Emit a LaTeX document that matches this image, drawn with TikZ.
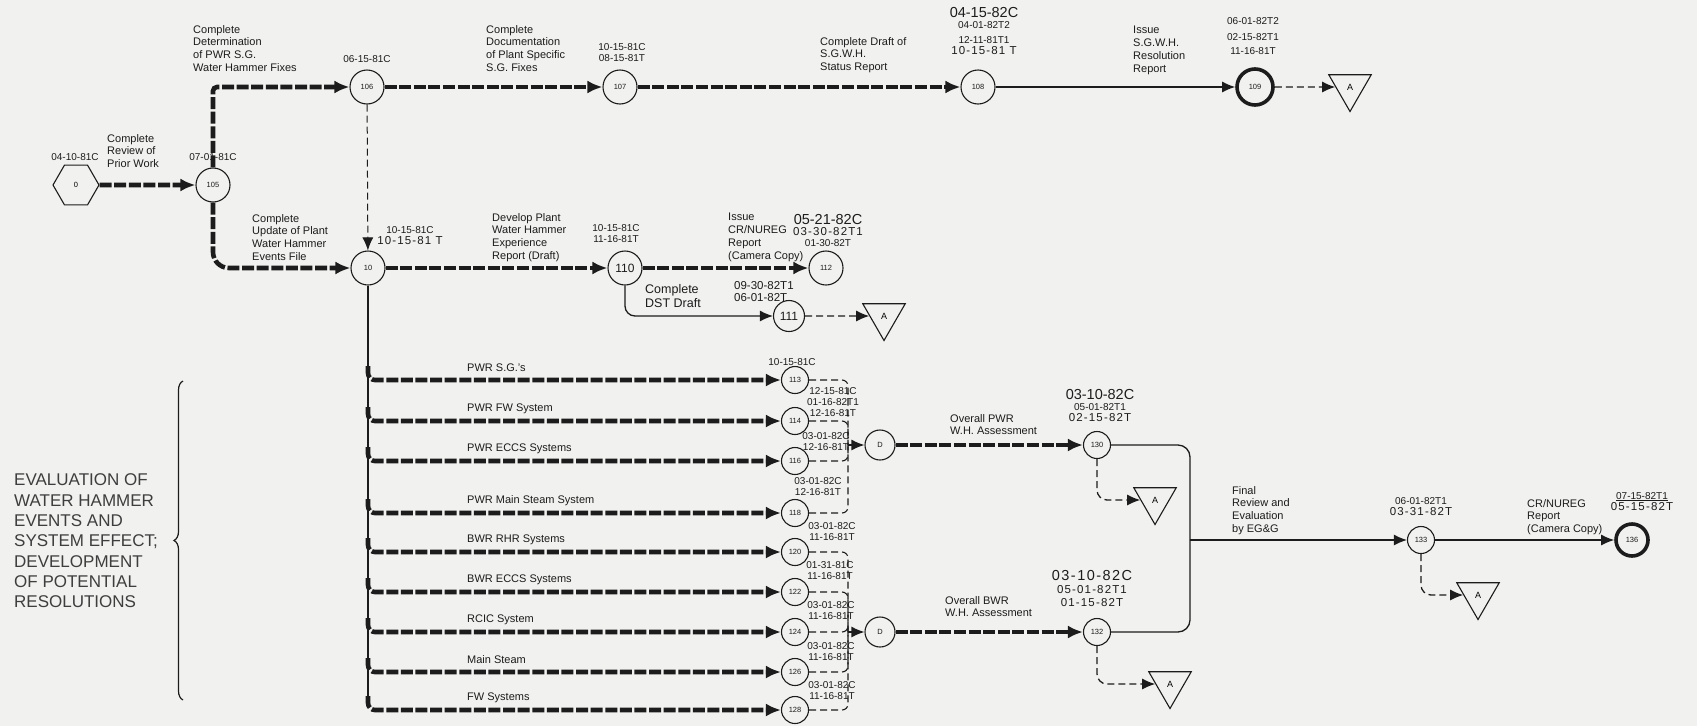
\documentclass[tikz,border=0pt]{standalone}
\usepackage{fontspec}
\setmainfont{Liberation Sans}
\usepackage{xcolor}
\usepackage{tikz}
\usetikzlibrary{shapes.geometric,arrows.meta,positioning,calc,decorations.pathreplacing}
\definecolor{paper}{RGB}{241,241,239}
\definecolor{ink}{RGB}{28,28,28}
\newcommand{\fs}[2]{\fontsize{#1}{#2}\selectfont}
\newcommand{\md}{\fs{11.5}{13}\addfontfeatures{LetterSpace=10}}
\tikzset{
  ev/.style={draw=ink, circle, line width=1.1pt, minimum size=34pt, inner sep=0pt,
             font=\fs{7.5}{8}, text=ink},
  evs/.style={ev, minimum size=27pt},
  evt/.style={ev, line width=3.6pt, minimum size=36pt},
  hexa/.style={draw=ink, regular polygon, regular polygon sides=6, minimum size=46pt,
               line width=1.1pt, inner sep=0pt, font=\fs{7.5}{8}},
  tri/.style={draw=ink, regular polygon, regular polygon sides=3, shape border rotate=180,
              minimum size=49pt, line width=1.1pt, inner sep=0pt, font=\fs{9}{10}},
  lbl/.style={align=left, anchor=north west, inner sep=0pt, text=ink, font=\fs{11}{12.8}},
  dt/.style={align=center, inner sep=0pt, text=ink, font=\fs{10}{11}},
  hatch/.style={draw=ink, line width=4.6pt, dash pattern=on 12pt off 2.6pt,
                -{Latex[length=15pt,width=13pt]}},
  SA/.style={draw=ink, line width=1.3pt, -{Latex[length=13pt,width=11pt]}},
  DA/.style={draw=ink, line width=1.3pt, dash pattern=on 7pt off 4pt,
             -{Latex[length=13pt,width=11pt]}},
  DL/.style={draw=ink, line width=1.1pt, dash pattern=on 7pt off 4pt}
}

\begin{document}
\begin{tikzpicture}[x=1pt, y=-1pt]
\fill[paper] (0,0) rectangle (1697,726);
\useasboundingbox (0,0) rectangle (1697,726);

% ---- Top row: S.G. fixes ----
\node[hexa] (n0)   at (76,185)  {0};
\node[ev]   (n105) at (213,185) {105};
\node[ev]   (n106) at (367,87)  {106};
\node[ev]   (n107) at (620,87)  {107};
\node[ev]   (n108) at (978,87)  {108};
\node[evt]  (n109) at (1255,87) {109};
\node[tri]  (A1)   at (1350,87) {A};

\node[dt] (d0)   at (75,157)  {04-10-81C};
\node[lbl] (t0)  at (107,134) {Complete\\Review of\\Prior Work};
\node[dt] (d105) at (213,157) {07-01-81C};
\node[lbl] (t105) at (193,25) {Complete\\Determination\\of PWR S.G.\\Water Hammer Fixes};
\node[dt] (d106) at (367,59)  {06-15-81C};
\node[lbl] (t106) at (486,25) {Complete\\Documentation\\of Plant Specific\\S.G. Fixes};
\node[dt] (d107) at (622,53)  {10-15-81C\\08-15-81T};
\node[lbl] (t107) at (820,37) {Complete Draft of\\S.G.W.H.\\Status Report};
\node[dt, anchor=north] (d108) at (984,7)
    {{\fs{14.5}{15}04-15-82C}\\04-01-82T2\\[4pt]12-11-81T1\\{\md 10-15-81 T}};
\node[lbl] (t108) at (1133,26) {Issue\\S.G.W.H.\\Resolution\\Report};
\node[dt, anchor=north] (d109) at (1253,17) {06-01-82T2\\[5pt]02-15-82T1\\[3pt]11-16-81T};

% ---- Middle row: events file ----
\node[ev]  (n10)  at (368,268) {10};
\node[ev, font=\fs{12}{12}]  (n110) at (625,268) {110};
\node[ev]  (n112) at (826,268) {112};
\node[ev, minimum size=31pt, font=\fs{12}{12}] (n111) at (789,316) {111};
\node[tri] (A2)   at (884,316) {A};

\node[lbl] (t10) at (252,214) {Complete\\Update of Plant\\Water Hammer\\Events File};
\node[dt]  (d10) at (410,236) {10-15-81C\\{\md 10-15-81 T}};
\node[lbl] (t110) at (492,213) {Develop Plant\\Water Hammer\\Experience\\Report (Draft)};
\node[dt]  (d110) at (616,234) {10-15-81C\\11-16-81T};
\node[lbl] (t112) at (728,213) {Issue\\CR/NUREG\\Report\\(Camera Copy)};
\node[dt, anchor=north] (d112) at (828,214)
    {{\fs{14.5}{15}05-21-82C}\\{\md 03-30-82T1}\\01-30-82T};
\node[lbl, font=\fs{12.5}{14}] (t111) at (645,284) {Complete\\DST Draft};
\node[lbl, font=\fs{11.5}{12}] (d111) at (734,281) {09-30-82T1\\06-01-82T};

% ---- Evaluation rows ----
\coordinate (trunk) at (368,700);
\foreach \n/\y/\t in {113/380/{PWR S.G.'s}, 114/421/{PWR FW System},
    116/461/{PWR ECCS Systems}, 118/513/{PWR Main Steam System},
    120/552/{BWR RHR Systems}, 122/592/{BWR ECCS Systems},
    124/632/{RCIC System}, 126/672/{Main Steam}, 128/710/{FW Systems}}{
  \node[evs] (n\n) at (795,\y) {\n};
  \coordinate (b\n) at (368,\y-14);
  \node[lbl, anchor=west] at (467,\y-12) {\t};
  \draw[hatch, rounded corners=7pt] (b\n) |- (n\n);
}

\node[ev, minimum size=30pt] (D1) at (880,445) {D};
\node[ev, minimum size=30pt] (D2) at (880,632) {D};
\coordinate (jD1) at (848,445);
\coordinate (jD2) at (848,632);

\node[dt] at (792,362) {10-15-81C};
\node[dt] at (833,402) {12-15-81C\\01-16-82T1\\12-16-81T};
\node[dt] at (826,442) {03-01-82C\\12-16-81T};
\node[dt] at (818,487) {03-01-82C\\12-16-81T};
\node[dt] at (832,532) {03-01-82C\\11-16-81T};
\node[dt] at (830,571) {01-31-81C\\11-16-81T};
\node[dt] at (831,611) {03-01-82C\\11-16-81T};
\node[dt] at (831,652) {03-01-82C\\11-16-81T};
\node[dt] at (832,691) {03-01-82C\\11-16-81T};

% ---- Assessments and final report ----
\node[evs] (n130) at (1097,445) {130};
\node[evs] (n132) at (1097,632) {132};
\node[tri] (A3) at (1155,500) {A};
\node[tri] (A4) at (1170,684) {A};
\coordinate (jm) at (1190,540);
\node[evs] (n133) at (1421,540) {133};
\node[evt, minimum size=32pt] (n136) at (1632,540) {136};
\node[tri] (A5) at (1478,595) {A};

\node[lbl] (t130) at (950,414) {Overall PWR\\W.H. Assessment};
\node[dt, anchor=north] (d130) at (1100,389)
    {{\fs{14.5}{15}03-10-82C}\\05-01-82T1\\{\md 02-15-82T}};
\node[lbl] (t132) at (945,596) {Overall BWR\\W.H. Assessment};
\node[dt, anchor=north, font=\md] (d132) at (1092,570)
    {{\fs{14.5}{15}03-10-82C}\\05-01-82T1\\01-15-82T};
\node[lbl] (t133) at (1232,486) {Final\\Review and\\Evaluation\\by EG\&G};
\node[dt, anchor=north] (d133) at (1421,497) {06-01-82T1\\{\md 03-31-82T}};
\node[lbl] (t136) at (1527,499) {CR/NUREG\\Report\\(Camera Copy)};
\node[dt, anchor=north] (d136) at (1642,492) {\underline{07-15-82T1}\\{\md 05-15-82T}};

% ---- Brace and side text ----
\draw[ink, line width=1.2pt, decorate, decoration={brace, amplitude=9pt}]
    (183,700) -- (183,381);
\node[align=left, anchor=west, inner sep=0pt, text=ink!85, font=\fs{17}{20.3}] (ev)
    at (14,541) {EVALUATION OF\\WATER HAMMER\\EVENTS AND\\SYSTEM EFFECT;\\DEVELOPMENT\\OF POTENTIAL\\RESOLUTIONS};

% ---- Connectors ----
\draw[hatch] (n0) -- (n105);
\draw[hatch, rounded corners=4pt] (n105) |- (n106);
\draw[hatch, rounded corners=16pt] (n105) |- (n10);
\draw[hatch] (n106) -- (n107);
\draw[hatch] (n107) -- (n108);
\draw[SA] (n108) -- (n109);
\draw[DA] (n109) -- (A1);
\draw[DA, line width=1pt] (n106) -- (n10);
\draw[hatch] (n10) -- (n110);
\draw[hatch] (n110) -- (n112);
\draw[SA, rounded corners=10pt] (n110) |- (n111);
\draw[DA] (n111) -- (A2);
\draw[ink, line width=1.3pt] (n10) -- (trunk);

\foreach \n in {113,114,116,118} \draw[DL, rounded corners=6pt] (n\n) -| (jD1);
\foreach \n in {120,122,124,126,128} \draw[DL, rounded corners=6pt] (n\n) -| (jD2);
\draw[SA] (jD1) -- (D1);
\draw[SA] (jD2) -- (D2);
\draw[hatch] (D1) -- (n130);
\draw[hatch] (D2) -- (n132);
\draw[DA, rounded corners=10pt] (n130) |- (A3);
\draw[DA, rounded corners=10pt] (n132) |- (A4);
\draw[ink, line width=1.3pt, rounded corners=12pt] (n130) -| (jm);
\draw[ink, line width=1.3pt, rounded corners=12pt] (n132) -| (jm);
\draw[SA] (jm) -- (n133);
\draw[SA] (n133) -- (n136);
\draw[DA, rounded corners=10pt] (n133) |- (A5);

\end{tikzpicture}
\end{document}
